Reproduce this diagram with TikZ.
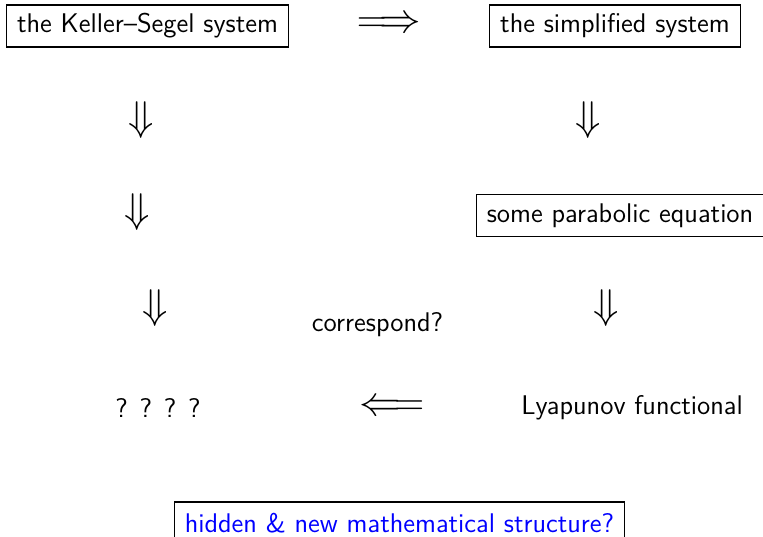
\documentclass[tikz,border=0pt]{standalone}
\usepackage{fontspec}
\begin{document}
\begin{tikzpicture}[x=0.5pt,y=-0.5pt,
  every node/.style={font=\sffamily\fontsize{13.5}{16}\selectfont, inner sep=0pt},
  bx/.style={draw, line width=0.6pt, inner xsep=5.3pt, minimum height=21pt},
  arr/.style={font=\fontsize{20}{22}\selectfont}]
\useasboundingbox (0,0) rectangle (763,536);
% boxes
\node[bx] (ks) at (147.5,26) {the Keller--Segel system};
\node[bx] (simp) at (615,26) {the simplified system};
\node[bx] (pe) at (620,215.5) {some parabolic equation};
\node[bx, text=blue] (hid) at (399.5,523) {hidden \& new mathematical structure?};
% plain texts
\node (corr) at (377.5,325) {correspond?};
\node (qq) at (158,408) {? ? ? ?};
\node (lyap) at (632,408) {Lyapunov functional};
% glyph arrows
\node[arr] (imp) at (389,25) {$\Longrightarrow$};
\node[arr] (impl) at (392,408) {$\Longleftarrow$};
\node[arr] (d1l) at (141,120) {$\Downarrow$};
\node[arr] (d1r) at (588,120) {$\Downarrow$};
\node[arr] (d2l) at (137,212) {$\Downarrow$};
\node[arr] (d3l) at (155,308) {$\Downarrow$};
\node[arr] (d3r) at (606,308) {$\Downarrow$};
\end{tikzpicture}
\end{document}
